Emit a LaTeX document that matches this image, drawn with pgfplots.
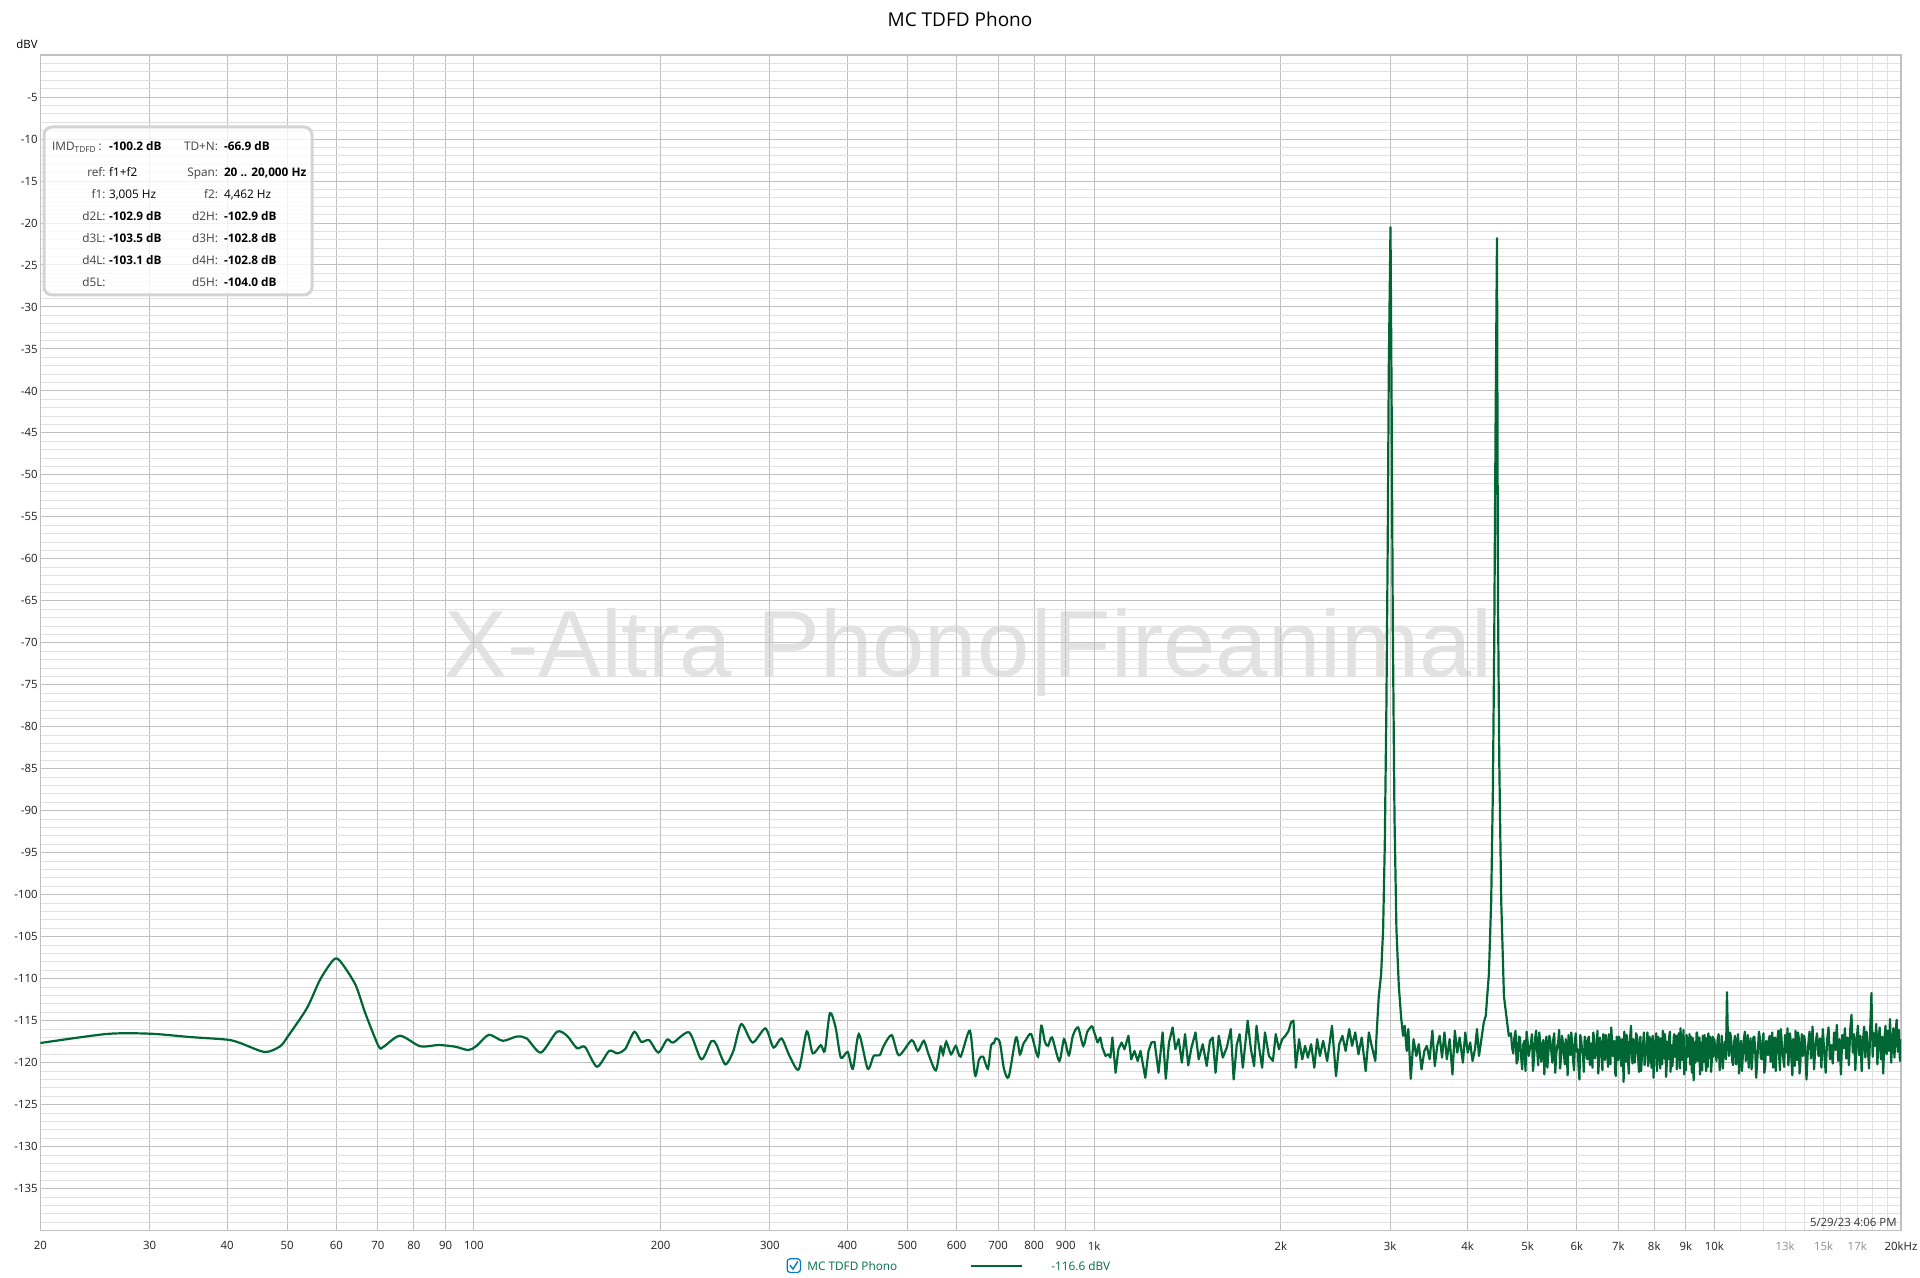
\documentclass[border=0pt]{standalone}
\usepackage{pgfplots}
\pgfplotsset{compat=1.18}
\usepackage{fontspec}
\setmainfont{Open Sans}
\newfontfamily\wmfont{Liberation Sans}

\definecolor{trace}{RGB}{0,102,51}
\definecolor{legtxt}{RGB}{0,108,72}
\definecolor{gridmajor}{RGB}{192,192,192}
\definecolor{gridminor}{RGB}{224,224,224}
\definecolor{decade}{RGB}{138,138,138}
\definecolor{wmark}{RGB}{226,226,226}
\definecolor{boxline}{RGB}{212,212,212}
\definecolor{checkblue}{RGB}{0,120,215}
\definecolor{lbl}{RGB}{64,64,64}

\newcommand{\tinyfont}{\fontsize{5.7pt}{6.5pt}\selectfont}

\begin{document}
\begin{tikzpicture}[font=\tinyfont]
\useasboundingbox (0,0) rectangle (960pt,639pt);

% watermark first, so that grid and trace lie over it
\node[anchor=base, inner sep=0, text=wmark, font=\wmfont\fontsize{47pt}{47pt}\selectfont]
    at (484.3pt,300.5pt) {X-Altra Phono|Fireanimal};

\begin{axis}[
    at={(20.2pt,23.7pt)}, anchor=south west,
    scale only axis, width=930.3pt, height=587.75pt,
    clip mode=individual,
    xmode=log, xmin=20, xmax=20000,
    ymin=-140, ymax=0,
    xtick={20,30,40,50,60,70,80,90,200,300,400,500,600,700,800,900,2000,3000,4000,5000,6000,7000,8000,9000,20000},
    xticklabels={20,30,40,50,60,70,80,90,200,300,400,500,600,700,800,900,2k,3k,4k,5k,6k,7k,8k,9k,20kHz},
    extra x ticks={100,1000,10000},
    extra x tick labels={100,1k,10k},
    extra x tick style={grid style={color=decade, line width=0.6pt}},
    minor xtick={11000,12000,13000,14000,15000,16000,17000,18000,19000},
    ytick={-135,-130,-125,-120,-115,-110,-105,-100,-95,-90,-85,-80,-75,-70,-65,-60,-55,-50,-45,-40,-35,-30,-25,-20,-15,-10,-5},
    minor ytick={-139,-138,...,-1},
    yticklabel={\pgfmathparse{int(\tick)}\pgfmathresult},
    grid=both,
    major grid style={color=gridmajor, line width=0.5pt},
    minor grid style={color=gridminor, line width=0.5pt},
    major tick length=0pt, minor tick length=0pt,
    axis line style={color=gridmajor, line width=0.6pt},
    xticklabel style={font=\tinyfont, text=black!88, yshift=-2pt},
    yticklabel style={font=\tinyfont, text=black!88, inner sep=1.2pt},
]

% low frequency part, smooth
\addplot[color=trace, line width=1.1pt, smooth, tension=0.45] coordinates {
(20,-117.66) (25.6,-116.58) (30.05,-116.55) (34.9,-116.95) (40,-117.26) (42,-117.66)
(46.0,-118.73) (48.7,-118.05) (50.2,-116.79) (53.8,-113.5) (56.5,-110.1) (59.4,-107.74)
(60.9,-107.94) (64.4,-110.7) (66.8,-114.1) (70.2,-118.05) (71.5,-118.1) (76.0,-116.79)
(81.9,-118.05) (87.7,-117.9) (93.3,-118.1) (98.0,-118.5) (101.0,-118.0) (105.7,-116.68)
(111.3,-117.4) (117.3,-116.88) (121.7,-117.12) (128.2,-118.8) (136.1,-116.32) (141.3,-116.8)
(146.6,-118.28) (151.0,-118.12) (157.9,-120.48) (165.2,-118.6) (170.2,-118.88) (175.3,-118.4)
(181.4,-116.32) (186.1,-117.52) (191.7,-117.32) (198.3,-118.8) (204.9,-117.24) (209.6,-117.6)
(222.4,-116.4) (232.6,-119.6) (241.4,-117.44) (245.8,-117.8) (254.3,-120.2) (262.0,-118.6)
(269.9,-115.4) (281.4,-117.6) (295.1,-115.92) (304.1,-118.2) (313.3,-117.12) (322.8,-119.2)
(334.0,-120.8) (344.1,-116.28) (351.8,-118.88) (362.5,-117.92) (367.9,-118.6) (375.0,-114.12)
(383.0,-115.8) (390.5,-119.4) (400.5,-118.72) (408.3,-120.72) (417.5,-116.6) (431.4,-120.72)
(441.1,-119.2) (451.1,-119.12) (457.8,-118.0) (471.7,-116.72) (484.4,-119.12) (508.1,-117.32)
(519.6,-118.6) (531.4,-117.4) (540.8,-119.0) (555.6,-120.92) (565.6,-118.08) (570.7,-119.0)
(577.5,-117.52) (587.9,-119.0) (598.4,-118.0) (609.2,-119.28) (630.4,-116.2) (642.7,-121.52)
(652.4,-119.6) (662.2,-119.28) (674.1,-120.72) (682.2,-117.92) (689.3,-117.68) (694.4,-117.12)
(704.9,-117.6) (715.5,-120.72) (728.3,-121.68) (748.2,-117.0) (759.3,-119.0) (768.5,-117.8)
(776.5,-117.28) (791.7,-116.6) (812.0,-119.28) (821.8,-115.6) (832.8,-117.52) (842.8,-118.0)
(855.3,-117.0) (878.6,-119.8) (894.4,-117.2) (910.6,-119.12) (924.1,-116.8) (942.1,-115.8)
(960.5,-118.0) (975.0,-116.32) (992.6,-115.6)
};

% from 1 kHz up: noise floor and the two tones
\addplot[color=trace, line width=1.1pt, line join=round] coordinates {
(992.6,-115.6) (1012.7,-117.6) (1023.3,-117.0) (1031.0,-118.2) (1043.4,-119.2) (1054.3,-119.0)
(1062.2,-119.4) (1070.2,-117.0) (1083.0,-121.2) (1094.3,-118.4) (1107.4,-117.6) (1119.1,-118.4)
(1135.8,-116.8) (1147.7,-119.6) (1161.5,-118.6) (1175.4,-119.8) (1187.8,-118.6) (1209.2,-121.8)
(1223.8,-118.6) (1236.6,-117.6) (1251.4,-117.52) (1270.2,-121.2) (1289.3,-116.4) (1304.8,-121.92)
(1320.4,-117.6) (1338.3,-115.8) (1352.3,-118.4) (1368.5,-117.2) (1384.9,-120.0) (1401.5,-116.6)
(1418.3,-120.32) (1435.3,-118.2) (1456.9,-116.4) (1474.3,-119.6) (1496.5,-117.8) (1519.0,-120.4)
(1537.2,-117.4) (1553.3,-117.0) (1569.6,-121.2) (1588.4,-116.8) (1612.3,-119.4) (1636.5,-118.2)
(1661.1,-116.0) (1678.5,-122.0) (1698.6,-117.8) (1716.4,-116.6) (1737.0,-120.6) (1768.4,-115.0)
(1789.6,-118.4) (1811.1,-120.4) (1827.3,-115.6) (1843.8,-118.0) (1865.9,-120.6) (1885.4,-116.4)
(1913.8,-119.2) (1942.5,-119.8) (1962.8,-116.6) (1986.4,-118.4) (2010.2,-117.2) (2034.3,-116.8)
(2058.7,-116.2) (2077.2,-115.2) (2095.9,-115.0) (2114.7,-120.6) (2140.1,-117.2) (2165.7,-119.6)
(2188.4,-118.0) (2211.3,-119.4) (2237.9,-117.8) (2264.7,-120.6) (2288.5,-117.2) (2312.5,-119.2)
(2340.2,-117.4) (2375.3,-119.8) (2418.2,-115.6) (2454.5,-121.6) (2483.9,-117.8) (2513.7,-116.8)
(2543.9,-118.6) (2578.3,-116.0) (2605.3,-118.0) (2636.5,-116.4) (2668.1,-119.0) (2700.1,-117.0)
(2740.6,-121.0) (2773.5,-116.4) (2798.4,-117.8) (2840.4,-119.8) (2853.1,-116.8)
(2877,-112.1) (2902,-109.5) (2924,-104.1) (2942,-94.1) (2960,-77.4) (2975,-57.3) (2986,-37.3)
(3005,-20.5) (3018,-42.0) (3031,-68.0) (3050,-90.75) (3072,-104.1) (3099,-110.8) (3126,-114.6)
(3149,-116.8) (3168,-115.6) (3191.6,-118.6) (3210.7,-116.0) (3239.6,-121.92) (3273.5,-117.2)
(3307.8,-119.2) (3337.5,-117.8) (3372.5,-120.8) (3407.9,-118.6) (3438.5,-118.0) (3474.6,-119.6)
(3511.0,-116.2) (3542.5,-120.4) (3574.3,-118.0) (3606.4,-116.8) (3638.8,-119.4) (3671.5,-116.4)
(3704.5,-119.6) (3743.3,-117.2) (3782.6,-121.4) (3816.5,-116.2) (3850.8,-118.8) (3885.4,-117.0)
(3932.0,-120.0) (3967.3,-116.4) (4003.0,-118.8) (4039.0,-117.6) (4075.3,-119.8) (4111.9,-118.4)
(4142.6,-116.0) (4173.6,-119.2) (4211.1,-117.2) (4248.9,-115.2) (4280.6,-114.4)
(4303,-112.1) (4330,-109.5) (4367,-100.8) (4395,-87.4) (4416,-70.7) (4439,-44.0) (4462,-21.8)
(4478,-64.0) (4500,-84.1) (4533,-100.8) (4579,-112.1) (4623,-114.6) (4662,-116.8)
(4700,-116.5)(4720,-118.2)(4740,-118.9)(4760,-117.0)(4780,-116.2)(4800,-120.1)(4820,-119.6)(4840,-116.9)(4860,-117.0)(4880,-119.3)
(4900,-120.8)(4920,-117.8)(4940,-117.4)(4960,-121.0)(4980,-116.3)(5000,-117.5)(5020,-119.2)(5040,-118.4)(5060,-117.8)(5080,-116.6)
(5100,-121.0)(5120,-119.5)(5140,-117.1)(5160,-116.2)(5180,-118.6)(5200,-120.3)(5220,-116.4)(5240,-117.7)(5260,-119.9)(5280,-118.0)
(5300,-117.3)(5320,-121.4)(5340,-118.1)(5360,-116.9)(5380,-120.6)(5400,-118.8)(5420,-116.8)(5440,-117.4)(5460,-118.7)(5480,-120.0)
(5500,-117.2)(5520,-116.5)(5540,-121.2)(5560,-119.0)(5580,-118.0)(5600,-117.6)(5620,-116.1)(5640,-120.7)(5660,-119.4)(5680,-116.8)
(5700,-117.6)(5720,-118.9)(5740,-120.2)(5760,-117.2)(5780,-118.3)(5800,-121.5)(5820,-116.7)(5840,-118.1)(5860,-119.1)(5880,-116.4)
(5900,-117.9)(5920,-119.8)(5940,-120.9)(5960,-117.3)(5980,-116.5)(6000,-118.7)(6020,-118.4)(6040,-120.4)(6060,-122.0)(6080,-116.7)
(6100,-117.3)(6120,-118.5)(6140,-119.0)(6160,-121.1)(6180,-116.9)(6200,-117.4)(6220,-118.8)(6240,-119.6)(6260,-117.1)(6280,-116.9)
(6300,-120.3)(6320,-118.3)(6340,-117.7)(6360,-120.6)(6380,-116.4)(6400,-117.1)(6420,-119.5)(6440,-118.9)(6460,-118.2)(6480,-116.2)
(6500,-121.3)(6520,-119.4)(6540,-117.0)(6560,-117.8)(6580,-118.9)(6600,-120.9)(6620,-116.6)(6640,-118.0)(6660,-119.7)(6680,-116.7)
(6700,-117.5)(6720,-119.1)(6740,-120.5)(6760,-116.6)(6780,-118.1)(6800,-120.2)(6820,-115.8)(6840,-117.5)(6860,-119.2)(6880,-118.6)
(6900,-117.4)(6920,-121.2)(6940,-121.6)(6960,-116.9)(6980,-118.3)(7000,-119.7)(7020,-116.9)(7040,-117.3)(7060,-119.0)(7080,-120.4)
(7100,-117.2)(7120,-118.8)(7140,-122.3)(7160,-116.3)(7180,-118.6)(7200,-119.9)(7220,-116.7)(7240,-117.7)(7260,-119.8)(7280,-121.3)
(7300,-117.9)(7320,-116.8)(7340,-115.6)(7360,-118.9)(7380,-120.1)(7400,-117.2)(7420,-117.5)(7440,-120.0)(7460,-118.7)(7480,-116.5)
(7500,-116.8)(7520,-118.4)(7540,-119.6)(7560,-121.1)(7580,-117.3)(7600,-116.9)(7620,-121.0)(7640,-119.5)(7660,-118.2)(7680,-117.6)
(7700,-116.4)(7720,-120.3)(7740,-119.3)(7760,-118.1)(7780,-117.7)(7800,-116.4)(7820,-120.4)(7840,-119.8)(7860,-116.9)(7880,-117.3)
(7900,-118.5)(7920,-120.6)(7940,-117.2)(7960,-116.8)(7980,-121.8)(8000,-119.2)(8020,-118.0)(8040,-117.4)(8060,-116.5)(8080,-121.0)
(8100,-119.4)(8120,-116.9)(8140,-117.6)(8160,-118.6)(8180,-120.7)(8200,-117.1)(8220,-118.1)(8240,-120.2)(8260,-116.2)(8280,-118.5)
(8300,-119.5)(8320,-116.6)(8340,-117.4)(8360,-121.7)(8380,-120.3)(8400,-117.5)(8420,-118.6)(8440,-119.6)(8460,-116.8)(8480,-116.3)
(8500,-121.1)(8520,-118.8)(8540,-117.9)(8560,-120.4)(8580,-119.0)(8600,-117.0)(8620,-116.6)(8640,-119.3)(8660,-118.4)(8680,-116.8)
(8700,-120.8)(8720,-118.9)(8740,-117.3)(8760,-116.5)(8780,-118.9)(8800,-120.7)(8820,-115.9)(8840,-117.8)(8860,-119.7)(8880,-118.2)
(8900,-117.5)(8920,-116.1)(8940,-121.4)(8960,-119.5)(8980,-118.2)(9000,-120.9)(9020,-116.7)(9040,-117.3)(9060,-119.3)(9080,-118.0)
(9100,-117.8)(9120,-116.6)(9140,-120.2)(9160,-119.3)(9180,-116.9)(9200,-121.2)(9220,-118.5)(9240,-117.1)(9260,-122.1)(9280,-118.7)
(9300,-117.6)(9320,-120.0)(9340,-119.1)(9360,-116.5)(9380,-116.4)(9400,-119.8)(9420,-118.8)(9440,-117.2)(9460,-117.0)(9480,-121.4)
(9500,-120.6)(9520,-117.6)(9540,-118.0)(9560,-120.9)(9580,-116.8)(9600,-118.4)(9620,-119.9)(9640,-116.7)(9660,-117.4)(9680,-119.8)
(9700,-121.0)(9720,-117.1)(9740,-118.3)(9760,-120.5)(9780,-116.5)(9800,-118.0)(9820,-119.4)(9840,-116.9)(9860,-117.7)(9880,-121.1)
(9900,-120.1)(9920,-117.5)(9940,-116.9)(9960,-119.3)(9980,-118.6)
(10000,-117.2)(10040,-118.5)(10080,-119.8)(10120,-117.3)(10160,-116.6)(10200,-120.9)(10240,-118.9)(10280,-116.8)(10320,-120.7)(10360,-118.4)
(10400,-117.5)(10440,-119.6)(10480,-111.6)(10520,-117.8)(10560,-119.2)(10600,-116.4)(10640,-117.0)(10680,-119.7)(10720,-120.3)(10760,-117.6)
(10800,-116.8)(10840,-120.2)(10880,-118.7)(10920,-116.6)(10960,-121.3)(11000,-118.9)(11040,-117.4)(11080,-121.0)(11120,-119.0)(11160,-117.2)
(11200,-116.3)(11240,-119.8)(11280,-118.5)(11320,-116.7)(11360,-120.6)(11400,-118.2)(11440,-117.1)(11480,-120.8)(11520,-119.4)(11560,-117.0)
(11600,-116.9)(11640,-118.6)(11680,-121.8)(11720,-120.1)(11760,-118.2)(11800,-116.3)(11840,-117.0)(11880,-119.4)(11920,-119.6)(11960,-117.7)
(12000,-116.5)(12040,-121.2)(12080,-120.4)(12120,-117.4)(12160,-118.0)(12200,-119.1)(12240,-117.3)(12280,-116.8)(12320,-119.9)(12360,-118.4)
(12400,-116.4)(12440,-120.6)(12480,-118.6)(12520,-117.0)(12560,-121.0)(12600,-118.3)(12640,-117.2)(12680,-116.2)(12720,-119.3)(12760,-120.9)
(12800,-116.0)(12840,-117.5)(12880,-118.8)(12920,-119.6)(12960,-120.5)(13000,-116.7)(13040,-117.6)(13080,-118.8)(13120,-115.9)(13160,-120.3)
(13200,-119.1)(13240,-116.5)(13280,-117.4)(13320,-119.9)(13360,-121.5)(13400,-117.2)(13440,-118.3)(13480,-120.4)(13520,-116.2)(13560,-118.0)
(13600,-119.7)(13640,-116.4)(13680,-117.0)(13720,-121.3)(13760,-120.2)(13800,-117.9)(13840,-116.6)(13880,-119.2)(13920,-118.9)(13960,-116.8)
(14000,-117.5) (14080,-122.0) (14160,-118.1) (14240,-116.3) (14320,-119.5) (14400,-115.7) (14480,-120.8) (14560,-117.8) (14640,-116.5) (14720,-119.2)
(14800,-117.1) (14880,-120.6) (14960,-116.0) (15040,-118.7) (15120,-121.2) (15200,-117.3) (15280,-115.8) (15360,-119.6) (15440,-117.9) (15520,-120.1)
(15600,-116.4) (15680,-118.5) (15760,-115.5) (15840,-119.8) (15920,-117.2) (16000,-121.4) (16080,-116.7) (16160,-118.3) (16240,-115.9) (16320,-119.5)
(16400,-117.0) (16480,-120.3) (16560,-116.1) (16640,-114.3) (16720,-118.8) (16800,-116.6) (16880,-120.9) (16960,-117.4) (17040,-115.6) (17120,-119.1)
(17200,-116.8) (17280,-121.0) (17360,-117.5) (17440,-115.7) (17520,-119.4) (17600,-116.3) (17680,-118.2) (17760,-120.7) (17840,-115.9) (17920,-111.7)
(18000,-119.3) (18080,-116.5) (18160,-118.0) (18240,-115.4) (18320,-120.2) (18400,-117.1) (18480,-115.8) (18560,-119.6) (18640,-116.9) (18720,-121.3)
(18800,-117.3) (18880,-115.6) (18960,-119.0) (19040,-116.2) (19120,-118.6) (19200,-114.8) (19280,-120.0) (19360,-117.5) (19440,-115.9) (19520,-119.4)
(19600,-116.4) (19680,-114.9) (19760,-118.7) (19840,-116.1) (19920,-119.8) (20000,-117.2)
};

% labels of the light 13k, 15k, 17k lines
\node[anchor=north, text=black!45, yshift=-2pt, inner sep=0.333em] at (axis cs:13000,-140) {13k};
\node[anchor=north, text=black!45, yshift=-2pt, inner sep=0.333em] at (axis cs:15000,-140) {15k};
\node[anchor=north, text=black!45, yshift=-2pt, inner sep=0.333em] at (axis cs:17000,-140) {17k};
\end{axis}

% title, unit, time stamp
\node[font=\fontsize{9.5pt}{11pt}\selectfont] at (480pt,629.2pt) {MC TDFD Phono};
\node at (13.5pt,617pt) {dBV};
\node[anchor=east, text=black!80, inner sep=0] at (948.5pt,28pt) {5/29/23 4:06 PM};

% measurement box
\draw[boxline, line width=1.5pt, rounded corners=4pt, fill=white, fill opacity=0.78]
    (22pt,491.5pt) rectangle (156pt,575.5pt);
\begin{scope}[every node/.style={inner sep=0, font=\fontsize{5.9pt}{6.6pt}\selectfont}]
\node[anchor=base west, text=lbl] at (25.9pt,563.8pt) {IMD\textsubscript{TDFD}\,:};
\node[anchor=base west] at (54.3pt,563.8pt) {\bfseries -100.2 dB};
\node[anchor=base east, text=lbl] at (109.2pt,563.8pt) {TD+N:};
\node[anchor=base west] at (111.8pt,563.8pt) {\bfseries -66.9 dB};

\node[anchor=base east, text=lbl] at (53pt,550.5pt) {ref:};
\node[anchor=base west] at (54.3pt,550.5pt) {f1+f2};
\node[anchor=base east, text=lbl] at (109.2pt,550.5pt) {Span:};
\node[anchor=base west] at (111.8pt,550.5pt) {\bfseries 20 .. 20,000 Hz};

\node[anchor=base east, text=lbl] at (53pt,539.65pt) {f1:};
\node[anchor=base west] at (54.3pt,539.65pt) {3,005 Hz};
\node[anchor=base east, text=lbl] at (109.2pt,539.65pt) {f2:};
\node[anchor=base west] at (111.8pt,539.65pt) {4,462 Hz};

\node[anchor=base east, text=lbl] at (53pt,528.5pt) {d2L:};
\node[anchor=base west] at (54.3pt,528.5pt) {\bfseries -102.9 dB};
\node[anchor=base east, text=lbl] at (109.2pt,528.5pt) {d2H:};
\node[anchor=base west] at (111.8pt,528.5pt) {\bfseries -102.9 dB};

\node[anchor=base east, text=lbl] at (53pt,517.65pt) {d3L:};
\node[anchor=base west] at (54.3pt,517.65pt) {\bfseries -103.5 dB};
\node[anchor=base east, text=lbl] at (109.2pt,517.65pt) {d3H:};
\node[anchor=base west] at (111.8pt,517.65pt) {\bfseries -102.8 dB};

\node[anchor=base east, text=lbl] at (53pt,506.8pt) {d4L:};
\node[anchor=base west] at (54.3pt,506.8pt) {\bfseries -103.1 dB};
\node[anchor=base east, text=lbl] at (109.2pt,506.8pt) {d4H:};
\node[anchor=base west] at (111.8pt,506.8pt) {\bfseries -102.8 dB};

\node[anchor=base east, text=lbl] at (53pt,495.5pt) {d5L:};
\node[anchor=base east, text=lbl] at (109.2pt,495.5pt) {d5H:};
\node[anchor=base west] at (111.8pt,495.5pt) {\bfseries -104.0 dB};
\end{scope}

% legend row at the bottom
\draw[checkblue, line width=0.6pt, rounded corners=1.4pt] (393.6pt,2.8pt) rectangle (400.2pt,9.6pt);
\draw[checkblue, line width=0.7pt] (395.0pt,6.3pt) -- (396.5pt,4.5pt) -- (398.9pt,8.3pt);
\node[anchor=west, text=legtxt, inner sep=0, font=\fontsize{5.9pt}{6.6pt}\selectfont] at (403.5pt,6pt) {MC TDFD Phono};
\draw[trace, line width=1.2pt] (485.5pt,6pt) -- (511pt,6pt);
\node[anchor=west, text=legtxt, inner sep=0, font=\fontsize{5.9pt}{6.6pt}\selectfont] at (525.5pt,6pt) {-116.6 dBV};
\end{tikzpicture}
\end{document}
